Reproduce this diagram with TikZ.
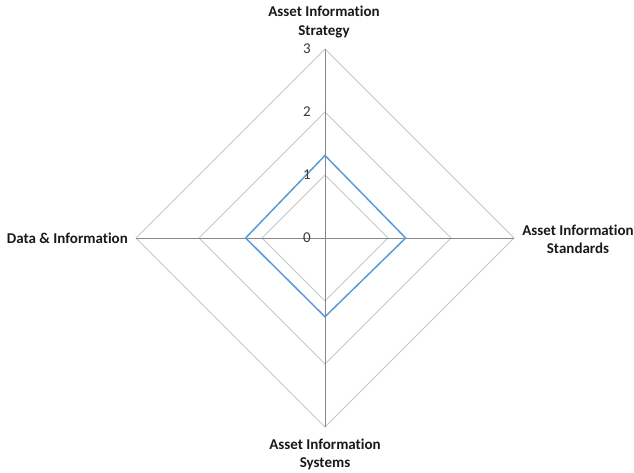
\documentclass[tikz,border=0pt]{standalone}
\usepackage{fontspec}
\setmainfont{Carlito}[Ligatures={NoCommon,NoContextual}]
\begin{document}
\begin{tikzpicture}[x=1pt,y=1pt,
  ring/.style={draw=black!22, line width=0.9pt},
  spoke/.style={draw=black!47, line width=0.9pt},
  series/.style={draw=seriesblue, line width=1.5pt, line join=miter},
  axislabel/.style={font=\fontsize{15}{18.3}\selectfont\bfseries, text=black!90, align=center, inner sep=0pt},
  ticklabel/.style={font=\fontsize{15}{18}\selectfont, text=black!78, anchor=east, inner sep=0pt}
]
\definecolor{seriesblue}{HTML}{5B9BD5}
\useasboundingbox (-325,-234) rectangle (309,238);
\clip (-325,-234) rectangle (309,238);
\def\unit{63}
% axis end points
\coordinate (O) at (0,0);
\foreach \k in {1,2,3}{
  \coordinate (T\k) at (0,\k*\unit);
  \coordinate (R\k) at (\k*\unit,0);
  \coordinate (B\k) at (0,-\k*\unit);
  \coordinate (L\k) at (-\k*\unit,0);
}
% concentric grid diamonds
\foreach \k in {1,2,3}{
  \draw[ring] (T\k) -- (R\k) -- (B\k) -- (L\k) -- cycle;
}
% spokes
\draw[spoke] (O) -- (T3);
\draw[spoke] (O) -- (R3);
\draw[spoke] (O) -- (B3);
\draw[spoke] (O) -- (L3);
% data series
\coordinate (sT) at (0,1.31*\unit);
\coordinate (sR) at (1.28*\unit,0);
\coordinate (sB) at (0,-1.25*\unit);
\coordinate (sL) at (-1.26*\unit,0);
\draw[series] (sT) -- (sR) -- (sB) -- (sL) -- cycle;
% scale values
\node[ticklabel] (t0) at (-14,0) {0};
\node[ticklabel] (t1) at (-14,\unit) {1};
\node[ticklabel] (t2) at (-14,2*\unit) {2};
\node[ticklabel] (t3) at (-14,3*\unit) {3};
% axis titles
\node[axislabel, anchor=north] (aS) at (-1,232) {Asset Information\\Strategy};
\node[axislabel, anchor=north] (aT) at (253,13.5) {Asset Information\\Standards};
\node[axislabel, anchor=east] (aD) at (-197,0) {Data \& Information};
\node[axislabel, anchor=north] (aY) at (0,-200.5) {Asset Information\\Systems};
\end{tikzpicture}
\end{document}
